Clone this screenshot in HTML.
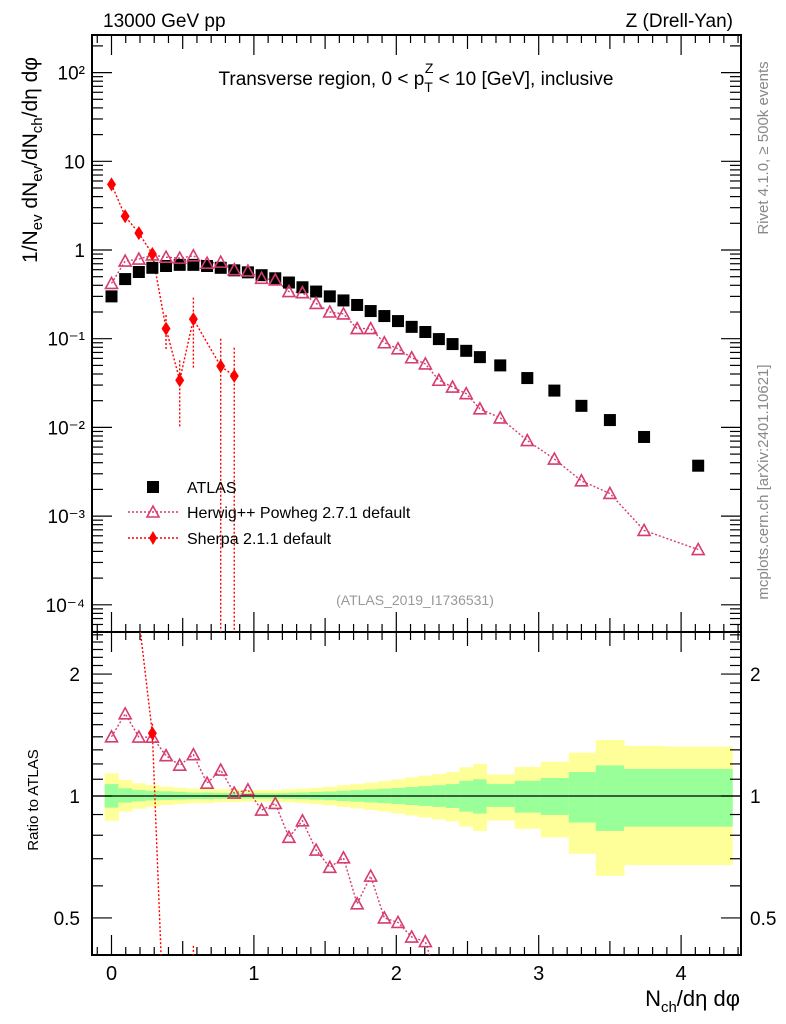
<!DOCTYPE html>
<html><head><meta charset="utf-8">
<style>
html,body{margin:0;padding:0;background:#fff;width:786px;height:1024px;overflow:hidden;}
svg{display:block;font-family:"Liberation Sans",sans-serif;}
</style></head>
<body>
<svg id="chart" width="786" height="1024" viewBox="0 0 786 1024" xmlns="http://www.w3.org/2000/svg">
<defs>
<clipPath id="clipMain"><rect x="92" y="35" width="649" height="597"/></clipPath>
<clipPath id="clipRatio"><rect x="92" y="632" width="649" height="323"/></clipPath>
</defs>
<text x="103" y="27" font-size="19">13000 GeV pp</text>
<text x="733" y="27" font-size="19" text-anchor="end">Z (Drell-Yan)</text>
<text x="416" y="85" font-size="19" text-anchor="middle">Transverse region, 0 &lt; p<tspan font-size="14" dy="7">T</tspan><tspan font-size="14" dx="-8" dy="-19">Z</tspan><tspan dy="12"> &lt; 10 [GeV], inclusive</tspan></text>
<text transform="translate(37,160) rotate(-90)" font-size="21" text-anchor="middle">1/N<tspan font-size="15" dy="5">ev</tspan><tspan dy="-5"> dN</tspan><tspan font-size="15" dy="5">ev</tspan><tspan dy="-5">/dN</tspan><tspan font-size="15" dy="5">ch</tspan><tspan dy="-5">/dη dφ</tspan></text>
<text transform="translate(38,800) rotate(-90)" font-size="15" text-anchor="middle">Ratio to ATLAS</text>
<text transform="translate(768,148) rotate(-90)" font-size="15" fill="#888" text-anchor="middle">Rivet 4.1.0, ≥ 500k events</text>
<text transform="translate(768,482) rotate(-90)" font-size="15" fill="#888" text-anchor="middle">mcplots.cern.ch [arXiv:2401.10621]</text>
<text x="415" y="605" font-size="14" fill="#999" text-anchor="middle">(ATLAS_2019_I1736531)</text>
<text x="740" y="1006" font-size="22" text-anchor="end">N<tspan font-size="15" dy="6">ch</tspan><tspan dy="-6">/dη dφ</tspan></text>
<g id="bands"></g><g id="axes"></g><g id="series"></g>
<g id="legend">
<rect x="147" y="481" width="12" height="12" fill="#000"/>
<text x="187" y="493" font-size="16">ATLAS</text>
<line x1="128" y1="512" x2="178" y2="512" stroke="#d63c6e" stroke-width="1.5" stroke-dasharray="2,2"/>
<path d="M153,506 L159,517 L147,517 Z" fill="none" stroke="#d63c6e" stroke-width="1.6"/>
<text x="187" y="518" font-size="16">Herwig++ Powheg 2.7.1 default</text>
<line x1="128" y1="538" x2="178" y2="538" stroke="#f00" stroke-width="1.5" stroke-dasharray="2,2"/>
<path d="M153,531 L157,538 L153,545 L149,538 Z" fill="#f00"/>
<text x="187" y="544" font-size="16">Sherpa 2.1.1 default</text>
</g>
</svg>
<script>
const xVals=[0,0.096,0.192,0.287,0.383,0.479,0.575,0.671,0.767,0.862,0.958,1.054,1.15,1.246,1.341,1.437,1.533,1.629,1.725,1.820,1.916,2.012,2.108,2.204,2.299,2.395,2.491,2.587,2.73,2.92,3.11,3.30,3.50,3.74,4.12];
const binLo=[-0.048,0.048,0.144,0.24,0.335,0.431,0.527,0.623,0.719,0.815,0.91,1.006,1.102,1.198,1.294,1.389,1.485,1.581,1.677,1.773,1.868,1.964,2.06,2.156,2.252,2.347,2.443,2.539,2.634,2.831,3.014,3.211,3.401,3.599,3.88];
const binHi=[0.048,0.144,0.24,0.335,0.431,0.527,0.623,0.719,0.815,0.91,1.006,1.102,1.198,1.294,1.389,1.485,1.581,1.677,1.773,1.868,1.964,2.06,2.156,2.252,2.347,2.443,2.539,2.634,2.831,3.014,3.211,3.401,3.599,3.88,4.359];
const atlas=[0.30,0.47,0.565,0.63,0.66,0.68,0.68,0.66,0.63,0.59,0.56,0.52,0.48,0.43,0.38,0.34,0.30,0.27,0.24,0.205,0.18,0.158,0.136,0.119,0.099,0.087,0.073,0.062,0.050,0.036,0.026,0.0175,0.0121,0.0078,0.0037];
const herwig=[0.42,0.75,0.79,0.88,0.83,0.81,0.86,0.71,0.73,0.60,0.58,0.48,0.46,0.34,0.33,0.25,0.20,0.19,0.13,0.13,0.09,0.077,0.061,0.052,0.034,0.0285,0.024,0.0162,0.0128,0.0071,0.0044,0.0025,0.0018,0.00069,0.00042];
const sherpa=[5.5,2.4,1.55,0.9,0.13,0.034,0.166,null,0.049,0.038];
const sherpaErrUp=[5.5,2.4,1.55,0.95,0.185,0.057,0.29,null,0.1,0.079];
const sherpaErrDn=[5.5,2.4,1.55,0.85,0.075,0.0098,0.047,null,1e-6,1e-6];
const yelHi=[1.138,1.095,1.075,1.063,1.054,1.048,1.043,1.043,1.039,1.039,1.035,1.035,1.035,1.039,1.043,1.048,1.054,1.063,1.07,1.079,1.089,1.099,1.112,1.123,1.133,1.146,1.177,1.2,1.13,1.18,1.215,1.28,1.375,1.33,1.325];
const yelLo=[0.869,0.915,0.93,0.94,0.95,0.955,0.96,0.96,0.965,0.965,0.968,0.968,0.968,0.965,0.96,0.955,0.948,0.94,0.932,0.924,0.915,0.905,0.895,0.885,0.875,0.865,0.84,0.82,0.87,0.83,0.79,0.72,0.635,0.675,0.675];
const grnHi=[1.07,1.045,1.035,1.03,1.027,1.024,1.02,1.02,1.018,1.018,1.016,1.016,1.016,1.018,1.02,1.023,1.026,1.03,1.034,1.038,1.042,1.047,1.052,1.058,1.063,1.07,1.09,1.1,1.07,1.09,1.108,1.146,1.19,1.166,1.166];
const grnLo=[0.936,0.963,0.97,0.975,0.978,0.98,0.982,0.982,0.984,0.984,0.985,0.985,0.985,0.984,0.982,0.979,0.976,0.972,0.968,0.964,0.96,0.955,0.95,0.945,0.94,0.934,0.915,0.905,0.94,0.91,0.898,0.86,0.82,0.84,0.84];
const mainTickLabels=["10⁻⁴","10⁻³","10⁻²","10⁻¹","1","10","10²"];
const ratioTickLabels=["0.5","1","2"];
const xTickLabels=["0","1","2","3","4"];

const NS="http://www.w3.org/2000/svg";
const L=92,R=741,MT=35,MB=632,RT=632,RB=955;
const X=v=>111.5+v*142.4;
const Y=v=>250-Math.log10(v)*88.7;
const YR=v=>796-Math.log10(v)*405;
function mk(tag,attrs,parent){const e=document.createElementNS(NS,tag);for(const k in attrs)e.setAttribute(k,attrs[k]);parent.appendChild(e);return e;}
const bands=document.getElementById('bands'),axes=document.getElementById('axes'),series=document.getElementById('series');
const bg=mk('g',{'clip-path':'url(#clipRatio)'},bands);
for(let i=0;i<xVals.length;i++){
  const r1=mk('rect',{x:X(binLo[i]),y:YR(yelHi[i]),width:X(binHi[i])-X(binLo[i])+0.5,height:YR(yelLo[i])-YR(yelHi[i]),fill:'#ffff99'},bg);
  
  
  const r2=mk('rect',{x:X(binLo[i]),y:YR(grnHi[i]),width:X(binHi[i])-X(binLo[i])+0.5,height:YR(grnLo[i])-YR(grnHi[i]),fill:'#99ff99'},bg);
  
  
}
mk('line',{x1:L,x2:R,y1:YR(1),y2:YR(1),stroke:'#000','stroke-width':1.2},bands);
const f1=mk('rect',{x:L,y:MT,width:R-L,height:MB-MT,fill:'none',stroke:'#000','stroke-width':2},axes);


const f2=mk('rect',{x:L,y:RT,width:R-L,height:RB-RT,fill:'none',stroke:'#000','stroke-width':2},axes);


for(let d=-5;d<=2;d++){for(let m=1;m<=9;m++){const v=m*Math.pow(10,d);const y=Y(v);if(y<MT||y>MB)continue;const len=m===1?20:11;
  mk('line',{x1:L,x2:L+len,y1:y,y2:y,stroke:'#000','stroke-width':1.2},axes);mk('line',{x1:R,x2:R-len,y1:y,y2:y,stroke:'#000','stroke-width':1.2},axes);}}
for(let i=0;i<mainTickLabels.length;i++){const t=mk('text',{x:85,y:Y(Math.pow(10,i-4))+7,'font-size':19,'text-anchor':'end'},axes);t.textContent=mainTickLabels[i];
  
  }
const rt=[0.5,0.6,0.7,0.8,0.9,1,1.1,1.2,1.3,1.4,1.5,1.6,1.7,1.8,1.9,2,2.1,2.2,2.3,2.4,2.5];
rt.forEach(v=>{const y=YR(v);if(y<RT||y>RB)return;const len=(v===0.5||v===1||v===2)?20:11;
  mk('line',{x1:L,x2:L+len,y1:y,y2:y,stroke:'#000','stroke-width':1.2},axes);mk('line',{x1:R,x2:R-len,y1:y,y2:y,stroke:'#000','stroke-width':1.2},axes);});
[0.5,1,2].forEach((v,i)=>{const a=mk('text',{x:80,y:YR(v)+7,'font-size':19,'text-anchor':'end'},axes);a.textContent=ratioTickLabels[i];
  
  
  const b=mk('text',{x:750,y:YR(v)+7,'font-size':19},axes);b.textContent=ratioTickLabels[i];
  
  });
for(let k=-1;k<=44;k++){const v=k/10;const x=X(v);if(x<L||x>R)continue;const len=k%10===0?20:(k%5===0?14:8);
  [[MB,-1],[MT,1],[RB,-1],[RT,1]].forEach(([y0,s])=>mk('line',{x1:x,x2:x,y1:y0,y2:y0+s*len,stroke:'#000','stroke-width':1.2},axes));}
xTickLabels.forEach((s,i)=>{const t=mk('text',{x:X(i),y:980,'font-size':20,'text-anchor':'middle'},axes);t.textContent=s;
  
  });
const gm=mk('g',{'clip-path':'url(#clipMain)'},series);
const gr=mk('g',{'clip-path':'url(#clipRatio)'},series);
const HC='#d63c6e';
function tri(g,x,y,name){const p=mk('path',{d:`M${x},${y-6} L${x+6},${y+5} L${x-6},${y+5} Z`,fill:'none',stroke:HC,'stroke-width':1.6},g);}
function dia(g,x,y,name){const p=mk('path',{d:`M${x},${y-7} L${x+4.5},${y} L${x},${y+7} L${x-4.5},${y} Z`,fill:'#f00'},g);}
mk('polyline',{points:herwig.map((v,i)=>`${X(xVals[i])},${Y(v)}`).join(' '),fill:'none',stroke:HC,'stroke-width':1.4,'stroke-dasharray':'2,2'},gm);
mk('polyline',{points:herwig.map((v,i)=>`${X(xVals[i])},${YR(v/atlas[i])}`).join(' '),fill:'none',stroke:HC,'stroke-width':1.4,'stroke-dasharray':'2,2'},gr);
const sp=[];sherpa.forEach((v,i)=>{if(v!==null)sp.push([i,v]);});
mk('polyline',{points:sp.map(([i,v])=>`${X(xVals[i])},${Y(v)}`).join(' '),fill:'none',stroke:'#f00','stroke-width':1.4,'stroke-dasharray':'2,2'},gm);
mk('polyline',{points:sp.map(([i,v])=>`${X(xVals[i])},${YR(v/atlas[i])}`).join(' '),fill:'none',stroke:'#f00','stroke-width':1.4,'stroke-dasharray':'2,2'},gr);
sp.forEach(([i,v])=>{const x=X(xVals[i]);
  mk('line',{x1:x,x2:x,y1:Y(sherpaErrUp[i]),y2:Y(sherpaErrDn[i]),stroke:'#f00','stroke-width':1.4,'stroke-dasharray':'2,2'},gm);
  mk('line',{x1:x,x2:x,y1:YR(sherpaErrUp[i]/atlas[i]),y2:YR(sherpaErrDn[i]/atlas[i]),stroke:'#f00','stroke-width':1.4,'stroke-dasharray':'2,2'},gr);});
atlas.forEach((v,i)=>{const r=mk('rect',{x:X(xVals[i])-6,y:Y(v)-6,width:12,height:12,fill:'#000'},gm);
  
  });
herwig.forEach((v,i)=>{tri(gm,X(xVals[i]),Y(v),'herwig-point');tri(gr,X(xVals[i]),YR(v/atlas[i]),'herwig-ratio-point');});
sp.forEach(([i,v])=>{dia(gm,X(xVals[i]),Y(v),'sherpa-point');dia(gr,X(xVals[i]),YR(v/atlas[i]),'sherpa-ratio-point');});
</script>
</body></html>
